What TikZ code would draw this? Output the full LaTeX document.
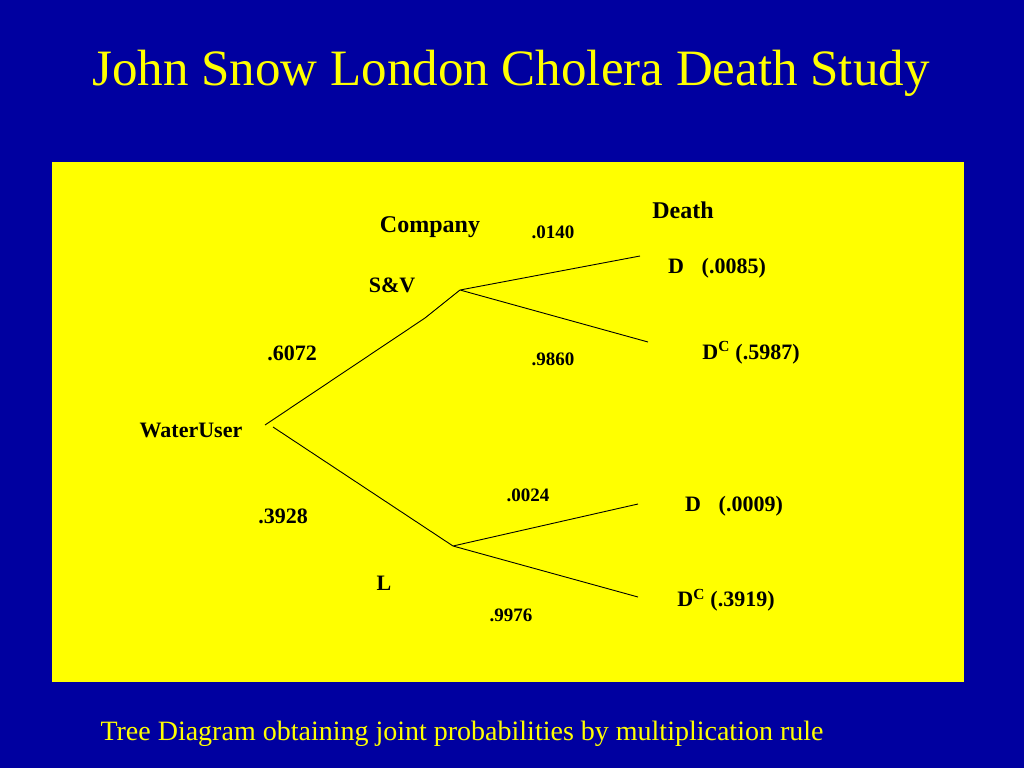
\documentclass[tikz,border=0pt]{standalone}
\usepackage{fontspec}
\setmainfont{Liberation Serif}
\usepackage{tikz}

\definecolor{slideblue}{RGB}{0,0,160}
\definecolor{slideyellow}{RGB}{255,255,0}

\tikzset{
  lbl/.style={font=\bfseries\fontsize{22}{26}\selectfont, inner sep=0pt},
  prob/.style={font=\bfseries\fontsize{19}{22}\selectfont, inner sep=0pt},
  head/.style={font=\bfseries\fontsize{24}{28}\selectfont, inner sep=0pt},
}

\begin{document}
\begin{tikzpicture}[x=1pt,y=-1pt,line width=0.9pt]
  \useasboundingbox (0,0) rectangle (1024,768);
  \fill[slideblue] (0,0) rectangle (1024,768);
  \fill[slideyellow] (52,162) rectangle (964,682);
  \node[text=slideyellow, font=\fontsize{51}{60}\selectfont] (title) at (511,73) {John Snow London Cholera Death Study};
  \node[text=slideyellow, font=\fontsize{28}{32}\selectfont] (foot) at (462,734) {Tree Diagram obtaining joint probabilities by multiplication rule};

  \node[head] (death) at (683,210) {Death};
  \node[head] (comp) at (430,227) {Company};
  \node[lbl] (user) at (191,430) {WaterUser};
  \node[lbl] (sv) at (392,285) {S\&V};
  \node[lbl] (l) at (384,583) {L};
  \node[lbl] (p1) at (292,353) {.6072};
  \node[lbl] (p2) at (283,516) {.3928};
  \node[prob] (q1) at (553,232) {.0140};
  \node[prob] (q2) at (553,359) {.9860};
  \node[prob] (q3) at (528,495) {.0024};
  \node[prob] (q4) at (511,615) {.9976};
  \node[lbl] (d1) at (717,268) {D\hspace{0.8em}(.0085)};
  \node[lbl] (d2) at (751,353) {D\textsuperscript{C} (.5987)};
  \node[lbl] (d3) at (734,506) {D\hspace{0.8em}(.0009)};
  \node[lbl] (d4) at (726,600) {D\textsuperscript{C} (.3919)};

  \coordinate (r1) at (265,425);
  \coordinate (r2) at (273,427);
  \coordinate (k1) at (425,318);
  \coordinate (sv0) at (460,290);
  \coordinate (l0) at (453,546);
  \coordinate (e1) at (640,256);
  \coordinate (e2) at (648,342);
  \coordinate (e3) at (638,504);
  \coordinate (e4) at (638,597);
  \draw (r1) -- (k1) -- (sv0) (sv0) -- (e1) (sv0) -- (e2);
  \draw (r2) -- (l0) (l0) -- (e3) (l0) -- (e4);
\end{tikzpicture}
\end{document}
